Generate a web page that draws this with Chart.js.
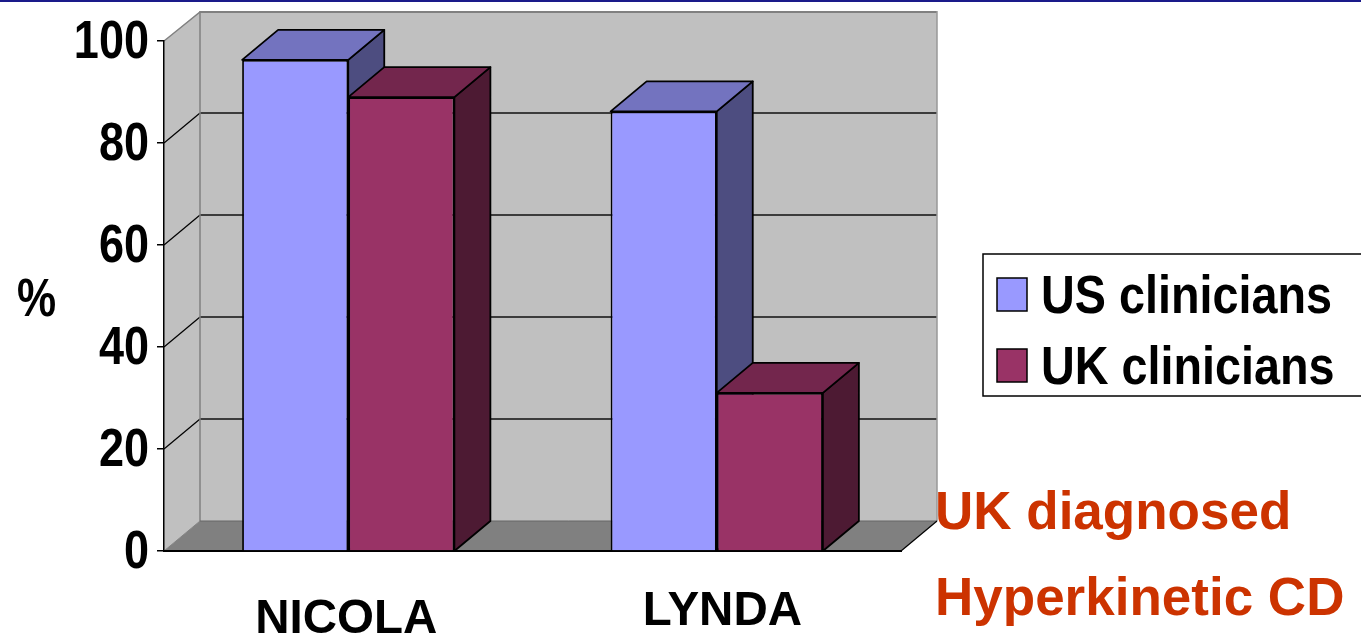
<!DOCTYPE html>
<html>
<head>
<meta charset="utf-8">
<title>NICOLA / LYNDA</title>
<script src="https://cdn.jsdelivr.net/npm/chart.js@4"></script>
<style>
  html, body { margin: 0; padding: 0; background: #fff; overflow: hidden; }
  canvas { display: block; }
</style>
</head>
<body>
<canvas id="grafik" width="1361" height="637"></canvas>
<script>
var kategoriler = ["NICOLA", "LYNDA"];
var seriAdlari = ["US clinicians", "UK clinicians"];
var usDegerleri = [96.3, 86.2];
var ukDegerleri = [89, 31];
var eksenDegerleri = [0, 20, 40, 60, 80, 100];
var notSatirlari = ["UK diagnosed", "Hyperkinetic CD"];

var renkler = [
  { on: "#9999ff", ust: "#7373bf", yan: "#4d4d80" },
  { on: "#993366", ust: "#73264d", yan: "#4d1a33" }
];

// derinlik kaymalari (3B gorunum)
var derinX = 36;
var duvarY = 30;
var barY = 30;

var yaziTipi = "'Liberation Sans', Arial, sans-serif";

function cokgen(ctx, noktalar, dolgu, cizgi, kalinlik) {
  ctx.beginPath();
  ctx.moveTo(noktalar[0][0], noktalar[0][1]);
  for (var i = 1; i < noktalar.length; i++) {
    ctx.lineTo(noktalar[i][0], noktalar[i][1]);
  }
  ctx.closePath();
  ctx.fillStyle = dolgu;
  ctx.fill();
  if (cizgi) {
    ctx.strokeStyle = cizgi;
    ctx.lineWidth = kalinlik;
    ctx.lineJoin = "round";
    ctx.stroke();
  }
}

function cizgi(ctx, x1, y1, x2, y2, renk, kalinlik) {
  ctx.beginPath();
  ctx.moveTo(x1, y1);
  ctx.lineTo(x2, y2);
  ctx.strokeStyle = renk;
  ctx.lineWidth = kalinlik;
  ctx.stroke();
}

function yazi(ctx, metin, x, y, font, renk, xOlcek, hiza) {
  ctx.save();
  ctx.translate(x, y);
  ctx.scale(xOlcek || 1, 1);
  ctx.font = font;
  ctx.fillStyle = renk;
  ctx.textAlign = hiza || "left";
  ctx.textBaseline = "alphabetic";
  ctx.fillText(metin, 0, 0);
  ctx.restore();
}

var ucBoyutEklentisi = {
  id: "ucBoyut",

  // yan duvar, arka duvar, taban ve izgara
  beforeDraw: function (chart) {
    var ctx = chart.ctx;
    var y = chart.scales.y;
    var sol = chart.chartArea.left;
    var sag = chart.chartArea.right;
    var alt = y.getPixelForValue(0);
    var ust = y.getPixelForValue(100);

    ctx.save();
    cizgi(ctx, 0, 1, 1361, 1, "#1a1a8a", 2);

    cokgen(ctx, [[sol + derinX, ust - duvarY], [sag + derinX, ust - duvarY], [sag + derinX, alt - duvarY], [sol + derinX, alt - duvarY]], "#c0c0c0");
    cokgen(ctx, [[sol, ust], [sol + derinX, ust - duvarY], [sol + derinX, alt - duvarY], [sol, alt]], "#c0c0c0");
    cokgen(ctx, [[sol, alt], [sol + derinX, alt - duvarY], [sag + derinX, alt - duvarY], [sag, alt]], "#808080");

    eksenDegerleri.forEach(function (d) {
      if (d === 0 || d === 100) return;
      var py = y.getPixelForValue(d);
      cizgi(ctx, sol, py, sol + derinX, py - duvarY, "#000", 1.2);
      cizgi(ctx, sol + derinX, py - duvarY, sag + derinX, py - duvarY, "#111", 1.5);
    });

    cizgi(ctx, sol, ust, sol + derinX, ust - duvarY + 1, "#808080", 1.5);
    cizgi(ctx, sol + derinX, ust - duvarY + 1, sag + derinX, ust - duvarY + 1, "#808080", 2);
    cizgi(ctx, sol + derinX, ust - duvarY, sol + derinX, alt - duvarY, "#808080", 1.5);
    cizgi(ctx, sag + derinX, ust - duvarY, sag + derinX, alt - duvarY, "#999", 1.5);
    cizgi(ctx, sol + derinX, alt - duvarY, sag + derinX, alt - duvarY, "#666", 1);
    cizgi(ctx, sol, alt, sol + derinX, alt - duvarY, "#808080", 1);
    cizgi(ctx, sag, alt, sag + derinX, alt - duvarY, "#000", 1.2);
    ctx.restore();
  },

  // cubuklarin ust ve yan yuzleri, on yuzu Chart.js ciziyor
  beforeDatasetsDraw: function (chart) {
    var ctx = chart.ctx;
    var alt = chart.scales.y.getPixelForValue(0);
    ctx.save();
    for (var k = 0; k < kategoriler.length; k++) {
      for (var s = 0; s < chart.data.datasets.length; s++) {
        var bar = chart.getDatasetMeta(s).data[k];
        var yari = bar.width / 2;
        var x1 = bar.x - yari;
        var x2 = bar.x + yari;
        var t = bar.y;
        cokgen(ctx, [[x2, t], [x2 + derinX, t - barY], [x2 + derinX, alt - barY], [x2, alt]], renkler[s].yan, "#000", 1.8);
        cokgen(ctx, [[x1, t], [x1 + derinX, t - barY], [x2 + derinX, t - barY], [x2, t]], renkler[s].ust, "#000", 1.8);
      }
    }
    ctx.restore();
  },

  // eksen yazilari, %, lejant ve not
  afterDraw: function (chart) {
    var ctx = chart.ctx;
    var x = chart.scales.x;
    var y = chart.scales.y;
    var altY = [633, 625];
    var kaydir = [-93, -74];
    var fontKategori = "bold 47.5px " + yaziTipi;
    var font53 = "bold 53px " + yaziTipi;

    // dar rakamlar icin yatayda sikistiriyoruz
    eksenDegerleri.forEach(function (d) {
      yazi(ctx, String(d), 149, y.getPixelForValue(d) + 17, font53, "#000", 0.85, "right");
    });

    kategoriler.forEach(function (k, i) {
      yazi(ctx, k, x.getPixelForValue(i) + kaydir[i], altY[i], fontKategori, "#000");
    });

    yazi(ctx, "%", 17, 316, font53, "#000", 0.83);

    // lejant kutusu sag kenardan tasiyor
    ctx.save();
    ctx.fillStyle = "#fff";
    ctx.fillRect(983, 254, 380, 142);
    ctx.strokeStyle = "#000";
    ctx.lineWidth = 1.5;
    ctx.strokeRect(983, 254, 380, 142);
    ctx.restore();

    var satirY = [313, 384];
    var kutuY = [278, 349];
    seriAdlari.forEach(function (ad, i) {
      ctx.save();
      ctx.fillStyle = renkler[i].on;
      ctx.fillRect(997, kutuY[i], 30, 33);
      ctx.strokeStyle = "#000";
      ctx.lineWidth = 1.5;
      ctx.strokeRect(997, kutuY[i], 30, 33);
      ctx.restore();
      yazi(ctx, ad, 1041, satirY[i], font53, "#000", 0.882);
    });

    yazi(ctx, notSatirlari[0], 935, 529, font53, "#cc3300");
    yazi(ctx, notSatirlari[1], 935, 615, font53, "#cc3300");
  }
};

var ctx = document.getElementById("grafik");
var grafik = new Chart(ctx, {
  type: "bar",
  plugins: [ucBoyutEklentisi],
  data: {
    labels: kategoriler,
    datasets: [{
      label: seriAdlari[0],
      data: usDegerleri,
      backgroundColor: renkler[0].on,
      borderColor: "#000",
      borderWidth: 1.8
    }, {
      label: seriAdlari[1],
      data: ukDegerleri,
      backgroundColor: renkler[1].on,
      borderColor: "#000",
      borderWidth: 1.8
    }]
  },
  options: {
    responsive: false,
    animation: false,
    categoryPercentage: 0.576,
    barPercentage: 1,
    layout: { padding: { top: 41, right: 460, left: 0, bottom: 0 } },
    plugins: {
      legend: { display: false },
      tooltip: { enabled: false },
      title: { display: false }
    },
    scales: {
      x: {
        grid: { display: false },
        border: { color: "#000", width: 2 },
        ticks: { display: false },
        afterFit: function (scale) { scale.height = 86; }
      },
      y: {
        min: 0,
        max: 100,
        afterBuildTicks: function (scale) {
          scale.ticks = eksenDegerleri.map(function (d) { return { value: d }; });
        },
        grid: { drawOnChartArea: false, drawTicks: true, tickLength: 7, color: "#000", lineWidth: 1.5 },
        border: { color: "#000", width: 1.5 },
        ticks: { display: false },
        afterFit: function (scale) { scale.width = 164; }
      }
    }
  }
});
</script>
</body>
</html>
